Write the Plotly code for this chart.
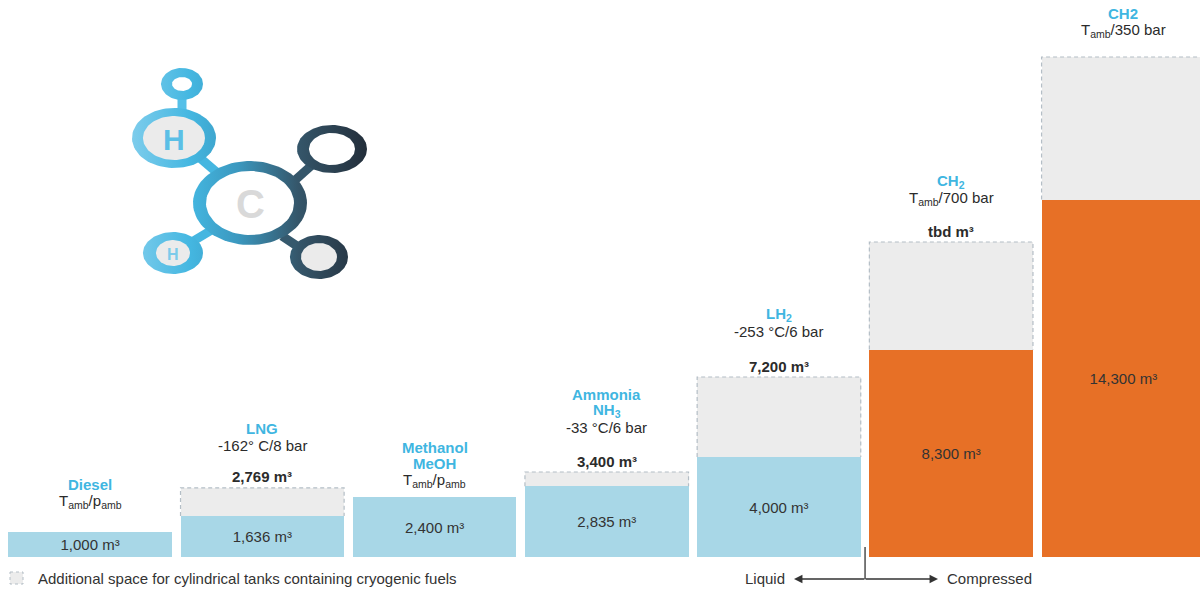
import numpy as np
import plotly.graph_objects as go

# ---------------- data ----------------
categories = ["Diesel", "LNG", "Methanol", "Ammonia", "LH2", "CH2 700", "CH2 350"]
fuel_volume = [1000, 1636, 2400, 2835, 4000, 8300, 14300]            # m3, coloured part
tank_volume = [None, 2769, None, 3400, 7200, 12600, 20000]            # m3 incl. cylindrical tank space
name_lines = [["Diesel"], ["LNG"], ["Methanol", "MeOH"], ["Ammonia", "NH<sub>3</sub>"],
              ["LH<sub>2</sub>"], ["CH<sub>2</sub>"], ["CH2"]]
conditions = ["T<sub>amb</sub>/p<sub>amb</sub>", "-162° C/8 bar", "T<sub>amb</sub>/p<sub>amb</sub>",
              "-33 °C/6 bar", "-253 °C/6 bar", "T<sub>amb</sub>/700 bar", "T<sub>amb</sub>/350 bar"]
tank_labels = [None, "2,769 m³", None, "3,400 m³", "7,200 m³", "tbd m³", None]
state = ["liquid", "liquid", "liquid", "liquid", "liquid", "compressed", "compressed"]

# ---------------- style ----------------
FONT = "Liberation Sans, Arial, Helvetica, sans-serif"
BLUE_BAR = "#a8d7e7"
ORANGE = "#e77026"
GRAY = "#ececec"
DASH = "#b4bec6"
BLUE_TXT = "#3fb6e1"
DARK = "#2b2b2b"
W = 0.95
FS = 15
cond_offset = [31, 42, 17, 45, 46, 44, 27]
W_PX, H_PX = 1200, 590

x = list(range(len(categories)))
colors = [BLUE_BAR if s == "liquid" else ORANGE for s in state]

fig = go.Figure()

# gray tank space
fig.add_trace(go.Bar(x=x, y=[t if t else 0 for t in tank_volume], width=W,
                     marker=dict(color=GRAY, line=dict(width=0)),
                     hoverinfo="skip", xaxis="x", yaxis="y"))
# dashed outline
ox, oy = [], []
for i, (c, t) in enumerate(zip(fuel_volume, tank_volume)):
    if t:
        ox += [i - W / 2, i - W / 2, i + W / 2, i + W / 2, None]
        oy += [c, t, t, c, None]
fig.add_trace(go.Scatter(x=ox, y=oy, mode="lines", line=dict(color=DASH, width=1.2, dash="4px,3px"),
                         hoverinfo="skip", xaxis="x", yaxis="y"))
# fuel volume bars
fig.add_trace(go.Bar(x=x, y=fuel_volume, width=W,
                     marker=dict(color=colors, line=dict(width=0)),
                     text=[f"{v:,} m³" for v in fuel_volume],
                     textposition="inside", insidetextanchor="middle", textangle=0,
                     textfont=dict(family=FONT, size=FS, color="#333333"),
                     hoverinfo="skip", xaxis="x", yaxis="y"))

annotations = []
for i in x:
    top = tank_volume[i] if tank_volume[i] else fuel_volume[i]
    if tank_labels[i]:
        annotations.append(dict(x=i, y=top, xref="x", yref="y", text=f"<b>{tank_labels[i]}</b>",
                                showarrow=False, yanchor="middle", yshift=11,
                                font=dict(family=FONT, size=FS, color=DARK)))
    co = cond_offset[i]
    annotations.append(dict(x=i, y=top, xref="x", yref="y", text=conditions[i], showarrow=False,
                            yanchor="middle", yshift=co, font=dict(family=FONT, size=FS, color=DARK)))
    for k, line in enumerate(reversed(name_lines[i])):
        annotations.append(dict(x=i, y=top, xref="x", yref="y", text=f"<b>{line}</b>", showarrow=False,
                                yanchor="middle", yshift=co + 17 + 16 * k,
                                font=dict(family=FONT, size=FS, color=BLUE_TXT)))

# ---------------- bottom legend / arrows (pixel axes x2/y2) ----------------
annotations += [
    dict(x=36, y=578, xref="x2", yref="y2", text="Additional space for cylindrical tanks containing cryogenic fuels",
         showarrow=False, xanchor="left", yanchor="middle", font=dict(family=FONT, size=15, color="#333333")),
    dict(x=787, y=578, xref="x2", yref="y2", text="Liquid", showarrow=False, xanchor="right",
         yanchor="middle", font=dict(family=FONT, size=15, color="#333333")),
    dict(x=945, y=578, xref="x2", yref="y2", text="Compressed", showarrow=False, xanchor="left",
         yanchor="middle", font=dict(family=FONT, size=15, color="#333333")),
    dict(x=794, y=579, xref="x2", yref="y2", ax=866, ay=579, axref="x2", ayref="y2", text="",
         showarrow=True, arrowhead=2, arrowsize=1.3, arrowwidth=1.3, arrowcolor="#333333"),
    dict(x=938, y=579, xref="x2", yref="y2", ax=864, ay=579, axref="x2", ayref="y2", text="",
         showarrow=True, arrowhead=2, arrowsize=1.3, arrowwidth=1.3, arrowcolor="#333333"),
]
shapes = [
    dict(type="line", xref="x", yref="y2", x0=4.5, x1=4.5, y0=547, y1=579,
         line=dict(color="#333333", width=1.3)),
    dict(type="rect", xref="x2", yref="y2", x0=10, x1=23, y0=572, y1=584, fillcolor=GRAY,
         line=dict(color=DASH, width=1, dash="dot")),
]

# ---------------- logo (pixel axes) ----------------
GRAD = dict(type="horizontal", start=130, stop=370,
            colorscale=[[0, "#7fcdec"], [0.25, "#44b7e1"], [0.45, "#3b98bf"], [0.7, "#35566a"], [1, "#222c38"]])

def ell(cx, cy, rx, ry, n=90):
    t = np.linspace(0, 2 * np.pi, n)
    return cx + rx * np.cos(t), cy + ry * np.sin(t)

# connectors
for (x0, y0, x1, y1, col) in [(182, 95, 182, 115, "#55c0e8"), (200, 158, 228, 182, "#45b6e0"),
                              (190, 243, 215, 228, "#45b6e0"), (293, 182, 312, 165, "#35566a"),
                              (282, 236, 300, 248, "#36596d")]:
    fig.add_trace(go.Scatter(x=[x0, x1], y=[y0, y1], mode="lines", line=dict(color=col, width=9),
                             hoverinfo="skip", xaxis="x2", yaxis="y2"))

rings = [  # cx, cy, rx, ry, irx, iry, inner colour
    (182, 84, 21, 16, 10, 7, "white"),
    (174, 138, 42, 30, 31, 22, "#ebebeb"),
    (250, 203, 57, 42, 44, 32, "white"),
    (332, 149, 35, 24, 23, 16, "white"),
    (319, 257, 29, 22, 18, 14, "#ebebeb"),
    (173, 253, 30, 21, 17, 13, "#ebebeb"),
]
for cx, cy, rx, ry, irx, iry, ic in rings:
    ex, ey = ell(cx, cy, rx, ry)
    fig.add_trace(go.Scatter(x=ex, y=ey, mode="lines", fill="toself", line=dict(width=0),
                             fillgradient=GRAD, hoverinfo="skip", xaxis="x2", yaxis="y2"))
for cx, cy, rx, ry, irx, iry, ic in rings:
    ex, ey = ell(cx, cy, irx, iry)
    fig.add_trace(go.Scatter(x=ex, y=ey, mode="lines", fill="toself", fillcolor=ic, line=dict(width=0),
                             hoverinfo="skip", xaxis="x2", yaxis="y2"))

annotations += [
    dict(x=174, y=139, xref="x2", yref="y2", text="<b>H</b>", showarrow=False,
         font=dict(family=FONT, size=30, color="#5bbfe6")),
    dict(x=250, y=204, xref="x2", yref="y2", text="<b>C</b>", showarrow=False,
         font=dict(family=FONT, size=40, color="#d9d9d9")),
    dict(x=173, y=254, xref="x2", yref="y2", text="<b>H</b>", showarrow=False,
         font=dict(family=FONT, size=16, color="#7ccbea")),
]

fig.update_layout(
    width=W_PX, height=H_PX, margin=dict(l=0, r=0, t=0, b=0),
    paper_bgcolor="white", plot_bgcolor="rgba(0,0,0,0)",
    barmode="overlay", showlegend=False, bargap=0,
    xaxis=dict(domain=[4 / W_PX, 1], range=[-0.5, 6.445], visible=False, fixedrange=True),
    yaxis=dict(domain=[33 / H_PX, 1], range=[0, 22280], visible=False, fixedrange=True),
    xaxis2=dict(domain=[0, 1], range=[0, W_PX], visible=False, anchor="y2", fixedrange=True),
    yaxis2=dict(domain=[0, 1], range=[H_PX, 0], visible=False, anchor="x2", fixedrange=True),
    annotations=annotations, shapes=shapes,
)

fig.write_html("out.html", config={"displayModeBar": False, "staticPlot": True},
               post_script="document.body.style.margin='0';document.body.style.overflow='hidden';")
